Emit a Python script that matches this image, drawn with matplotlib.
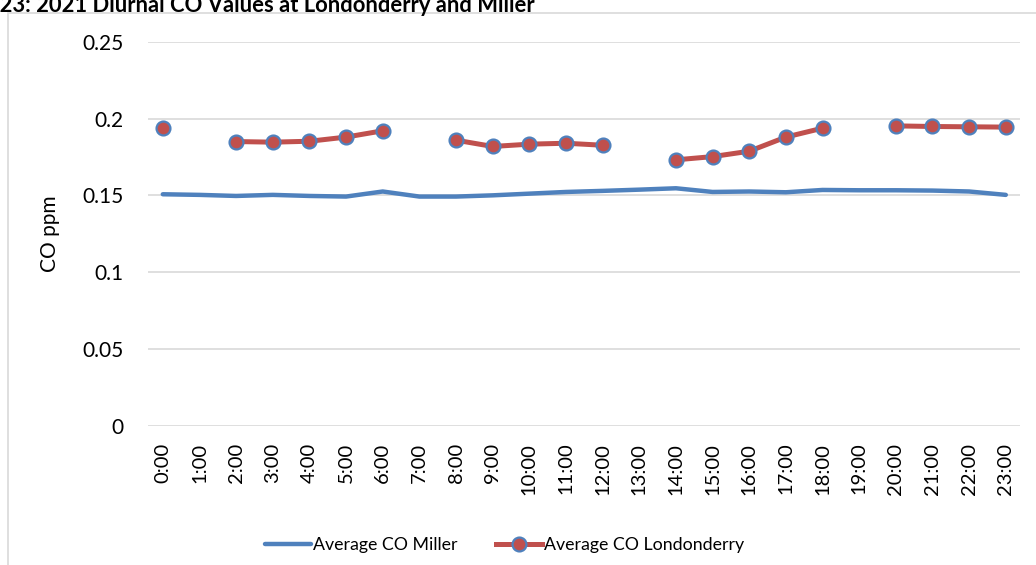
import numpy as np
import matplotlib
matplotlib.use("Agg")
import matplotlib.pyplot as plt
from matplotlib.patches import Rectangle

plt.rcParams["font.family"] = ["Lato", "DejaVu Sans"]

hours = [f"{h}:00" for h in range(24)]
miller = [0.1508, 0.1504, 0.1497, 0.1504, 0.1497, 0.1493, 0.1526, 0.1493,
          0.1493, 0.1501, 0.1512, 0.1523, 0.1530, 0.1538, 0.1547, 0.1523,
          0.1526, 0.1521, 0.1536, 0.1534, 0.1534, 0.1532, 0.1526, 0.1504]
londonderry = [0.1942, np.nan, 0.1851, 0.1847, 0.1853, 0.1880, 0.1921, np.nan,
               0.1860, 0.1819, 0.1834, 0.1840, 0.1827, np.nan, 0.1732, 0.1753,
               0.1788, 0.1880, 0.1938, np.nan, 0.1953, 0.1949, 0.1947, 0.1945]
yticks = [0, 0.05, 0.1, 0.15, 0.2, 0.25]
ytick_labels = ["0", "0.05", "0.1", "0.15", "0.2", "0.25"]

fig = plt.figure(figsize=(10.36, 5.65), dpi=100)
ax = fig.add_axes([0.143, 0.246, 0.842, 0.680])

x = np.arange(len(hours))
ax.plot(x, miller, color="#4F81BD", lw=3.2, solid_capstyle="round",
        label="Average CO Miller", zorder=3)
ax.plot(x, londonderry, color="#C0504D", lw=3.6, marker="o", markersize=10,
        markerfacecolor="#C0504D", markeredgecolor="#4F81BD", markeredgewidth=1.6,
        label="Average CO Londonderry", zorder=4)

ax.set_xlim(-0.4, 23.4)
ax.set_ylim(0, 0.25)
ax.set_yticks(yticks)
ax.set_yticklabels(ytick_labels, fontsize=15)
ax.set_xticks(x)
ax.set_xticklabels(hours, rotation=90, fontsize=14.5)
ax.tick_params(axis="both", length=0, colors="#000000")
ax.tick_params(axis="x", pad=12)
ax.tick_params(axis="y", pad=18)
ax.grid(True, axis="y", color="#d9d9d9", lw=1.2)
ax.set_axisbelow(True)
for s in ax.spines.values():
    s.set_visible(False)
ax.set_ylabel("CO ppm", fontsize=15, labelpad=16)

# chart frame (partially outside the image, as in the original crop)
fig.patches.append(Rectangle((8 / 1036, -0.1), 1.2, 1 - 13 / 565 + 0.1,
                             transform=fig.transFigure, fill=False,
                             edgecolor="#d9d9d9", lw=1.2, zorder=0))

fig.text(535 / 1036, 1 - 12 / 565,
         "Figure 3.23: 2021 Diurnal CO Values at Londonderry and Miller",
         ha="right", va="baseline", fontsize=15.8, fontweight="bold")

fig.legend(loc="center", bbox_to_anchor=(0.487, 1 - 545 / 565), ncol=2,
           frameon=False, fontsize=12.8, handlelength=2.6, columnspacing=2.2,
           handletextpad=0.1)

fig.savefig("out.png", dpi=100)
